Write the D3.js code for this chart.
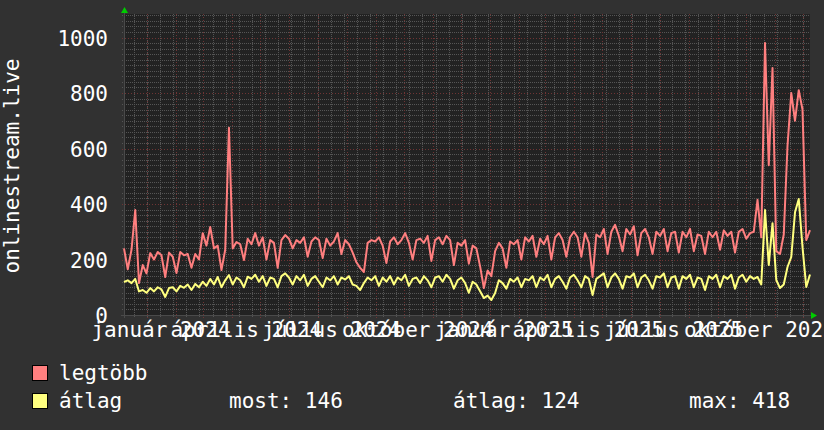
<!DOCTYPE html>
<html>
<head>
<meta charset="utf-8">
<script src="https://cdn.jsdelivr.net/npm/d3@7"></script>
<style>
  body { margin: 0; background: #313131; }
  svg { display: block; }
  text { font-family: "DejaVu Sans Mono", monospace; fill: #fff; }
</style>
</head>
<body>
<svg id="chart" width="824" height="430"></svg>
<script>
// 4-napos mintavétel, 2023-12-07-től
const startDate = new Date(Date.UTC(2023, 11, 7, 12));
const stepDays = 4;

const legtobb = [
  240, 165, 235, 378, 115, 180, 150, 223, 200, 227, 215, 137, 225, 210, 151, 227,
  215, 220, 170, 220, 200, 295, 250, 317, 240, 250, 162, 235, 675, 240, 263, 255,
  198, 275, 255, 295, 250, 280, 200, 270, 260, 170, 270, 288, 275, 240, 270, 260,
  280, 210, 265, 280, 270, 205, 275, 250, 265, 295, 220, 270, 255, 225, 190, 170,
  155, 260, 270, 265, 280, 250, 187, 265, 280, 255, 270, 295, 260, 200, 270, 275,
  260, 285, 195, 270, 280, 255, 285, 270, 180, 260, 250, 270, 185, 250, 240, 175,
  97, 160, 140, 230, 260, 240, 170, 265, 255, 270, 200, 280, 265, 285, 210, 275,
  255, 285, 200, 280, 295, 270, 210, 280, 300, 280, 210, 295, 260, 137, 290, 280,
  310, 220, 300, 325, 285, 230, 310, 290, 320, 215, 295, 310, 280, 220, 300, 285,
  310, 230, 295, 300, 225, 300, 280, 310, 230, 290, 285, 220, 300, 280, 300, 235,
  305, 285, 300, 225, 300, 310, 275, 295, 300, 415, 280, 980, 540, 890, 230, 220,
  290, 610, 800, 700, 810, 740, 270, 306
];
const atlag = [
  119, 125, 115, 130, 85, 90, 80, 97, 85, 100, 92, 65, 97, 100, 85, 105,
  98, 110, 90, 112, 100, 120, 105, 130, 110, 137, 100, 125, 144, 110, 135, 125,
  100, 138, 130, 145, 120, 140, 105, 135, 130, 100, 140, 150, 135, 110, 140, 125,
  145, 105, 130, 140, 120, 100, 135, 125, 140, 110, 135, 128, 140, 110, 105, 90,
  115, 135, 125, 140, 105, 135, 120, 140, 110, 135, 125, 145, 105, 130, 135, 115,
  140, 125, 100, 135, 140, 120, 145, 130, 95, 125, 135, 115, 80, 120, 110, 86,
  61, 70, 54, 79, 125, 115, 95, 130, 120, 135, 100, 130, 125, 140, 100, 135,
  125, 145, 100, 130, 140, 120, 95, 135, 145, 125, 100, 140, 130, 72, 130, 140,
  150, 100, 135, 150, 130, 95, 140, 135, 150, 100, 135, 145, 125, 95, 140, 135,
  150, 100, 135, 140, 95, 140, 130, 145, 100, 135, 130, 90, 140, 130, 145, 100,
  140, 130, 145, 95, 135, 145, 120, 140, 130, 137, 110, 378, 180, 331, 126, 97,
  110, 173, 209, 370, 418, 245, 101, 146
];

const yTicks = [0, 200, 400, 600, 800, 1000];
const xLabels = ["január 2024", "április 2024", "július 2024", "október 2024",
                 "január 2025", "április 2025", "július 2025", "október 2025"];
const xLabelDates = [[2024, 0], [2024, 3], [2024, 6], [2024, 9],
                     [2025, 0], [2025, 3], [2025, 6], [2025, 9]];
const legendStats = [["most:", 146], ["átlag:", 124], ["max:", 418]];

const svg = d3.select("#chart");
const pLeft = 124, pRight = 810, pTop = 14, pBottom = 315;

const dates = legtobb.map((d, i) => d3.utcDay.offset(startDate, i * stepDays));
const x = d3.scaleUtc()
  .domain([startDate, dates[dates.length - 1]])
  .range([pLeft, pRight]);
const y = d3.scaleLinear().domain([0, 1000]).range([pBottom, 37.5]);

svg.append("rect").attr("x", pLeft).attr("y", pTop)
  .attr("width", pRight - pLeft).attr("height", pBottom - pTop)
  .attr("fill", "#222");

// rács
const grid = svg.append("g").attr("shape-rendering", "crispEdges");
const minorDays = d3.range(0, 760, 14).map(d => d3.utcDay.offset(new Date(Date.UTC(2023, 11, 18)), d))
  .filter(d => d <= x.domain()[1]);
grid.selectAll(".vmin").data(minorDays).enter().append("line")
  .attr("x1", d => Math.round(x(d)) + 0.5).attr("x2", d => Math.round(x(d)) + 0.5)
  .attr("y1", pTop).attr("y2", pBottom + 3)
  .attr("stroke", "#555").attr("stroke-dasharray", "1,1");
grid.selectAll(".hmin").data(d3.range(20, 1090, 20).filter(v => v % 200 !== 0)).enter().append("line")
  .attr("x1", pLeft - 2).attr("x2", pRight)
  .attr("y1", d => Math.round(y(d)) + 0.5).attr("y2", d => Math.round(y(d)) + 0.5)
  .attr("stroke", "#555").attr("stroke-dasharray", "1,1");
grid.selectAll(".vmaj").data(d3.utcMonth.range(startDate, x.domain()[1])).enter().append("line")
  .attr("x1", d => Math.round(x(d)) + 0.5).attr("x2", d => Math.round(x(d)) + 0.5)
  .attr("y1", pTop).attr("y2", pBottom + 3)
  .attr("stroke", "#6e3434").attr("stroke-dasharray", "1,2");
grid.selectAll(".hmaj").data(yTicks.slice(1)).enter().append("line")
  .attr("x1", pLeft - 2).attr("x2", pRight)
  .attr("y1", d => Math.round(y(d)) + 0.5).attr("y2", d => Math.round(y(d)) + 0.5)
  .attr("stroke", "#6e3434").attr("stroke-dasharray", "1,2");

// tengelyek
grid.append("line").attr("x1", pLeft - 3).attr("x2", pRight + 3)
  .attr("y1", pBottom + 0.5).attr("y2", pBottom + 0.5).attr("stroke", "#4a4a4a");
grid.append("line").attr("x1", pLeft + 0.5).attr("x2", pLeft + 0.5)
  .attr("y1", pBottom + 3).attr("y2", 12).attr("stroke", "#4a4a4a");
svg.append("path").attr("d", `M${pLeft - 3},13 L${pLeft + 4},13 L${pLeft + 0.5},7 Z`).attr("fill", "#00cc00");
svg.append("path").attr("d", `M${pRight + 1},${pBottom - 3} L${pRight + 1},${pBottom + 4} L${pRight + 7},${pBottom + 0.5} Z`).attr("fill", "#00cc00");

// vonalak
const line = d3.line().x((d, i) => x(dates[i])).y(d => y(d));
svg.append("path").datum(legtobb).attr("d", line)
  .attr("fill", "none").attr("stroke", "#ff7f7f").attr("stroke-width", 2)
  .attr("stroke-linejoin", "round");
svg.append("path").datum(atlag).attr("d", line)
  .attr("fill", "none").attr("stroke", "#ffff7f").attr("stroke-width", 2)
  .attr("stroke-linejoin", "round");

// feliratok
svg.selectAll(".ytick").data(yTicks).enter().append("text")
  .attr("x", 108).attr("y", d => y(d) + 8)
  .attr("text-anchor", "end").style("font-size", "21px")
  .text(d => d);

svg.selectAll(".xlab").data(xLabels).enter().append("text")
  .attr("x", (d, i) => x(new Date(Date.UTC(xLabelDates[i][0], xLabelDates[i][1], 16))))
  .attr("y", 337).attr("text-anchor", "middle").style("font-size", "21px")
  .text(d => d);

svg.append("text").attr("transform", "translate(18.5,166) rotate(-90)")
  .attr("text-anchor", "middle").style("font-size", "21px")
  .text("onlinestream.live");

// jelmagyarázat
const legend = [["legtöbb", "#ff7f7f", 380], ["átlag", "#ffff7f", 408]];
legend.forEach(([name, col, by]) => {
  svg.append("rect").attr("x", 32.5).attr("y", by - 14.5).attr("width", 15).attr("height", 15)
    .attr("fill", col).attr("stroke", "#000");
  svg.append("text").attr("x", 59).attr("y", by).style("font-size", "21px").text(name);
});
const statX = [229, 453, 689];
legendStats.forEach(([k, v], i) => {
  svg.append("text").attr("x", statX[i]).attr("y", 408).style("font-size", "21px")
    .attr("xml:space", "preserve").text(k + " " + v);
});
</script>
</body>
</html>
